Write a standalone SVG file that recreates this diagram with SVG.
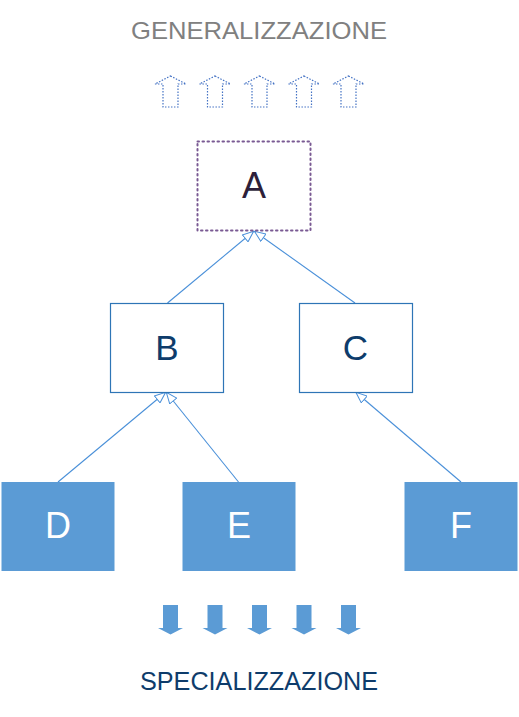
<svg xmlns="http://www.w3.org/2000/svg" width="519" height="717" viewBox="0 0 519 717">
<style>
.lbl{font-family:"Liberation Sans",Arial,sans-serif;text-anchor:middle}
.outline{fill:#ffffff;stroke:#2e75b6;stroke-width:1.2}
.filled{fill:#5b9bd5;stroke:#5b9bd5;stroke-width:1}
.conn{stroke:#4a90d9;stroke-width:1.1;fill:none}
.up{fill:none;stroke:#4472c4;stroke-width:1.2;stroke-dasharray:1.5 1.5}
.down{fill:#5b9bd5;stroke:none}
</style>
<defs>
<marker id="tri" viewBox="0 0 12 10" refX="12" refY="5" markerWidth="12" markerHeight="10" markerUnits="userSpaceOnUse" orient="auto">
<path d="M0.5,0.5 L11.5,5 L0.5,9.5 Z" fill="#ffffff" stroke="#4a90d9" stroke-width="1"/>
</marker>
<path id="uparrow" d="M0,-16 L15.5,-8 L7.5,-8 L7.5,15 L-7.5,15 L-7.5,-8 L-15.5,-8 Z"/>
<path id="downarrow" d="M-7.5,0 L7.5,0 L7.5,23 L12.5,23 L0,29.5 L-12.5,23 L-7.5,23 Z"/>
</defs>
<rect width="519" height="717" fill="#ffffff"/>
<text class="lbl" x="259" y="39" font-size="24.5" fill="#808080" textLength="256" lengthAdjust="spacingAndGlyphs">GENERALIZZAZIONE</text>
<g id="gen-arrows">
<use href="#uparrow" x="170.5" y="92" class="up"/>
<use href="#uparrow" x="215" y="92" class="up"/>
<use href="#uparrow" x="259.5" y="92" class="up"/>
<use href="#uparrow" x="304" y="92" class="up"/>
<use href="#uparrow" x="348.5" y="92" class="up"/>
</g>
<g id="connectors">
<line class="conn" x1="167.5" y1="303" x2="254" y2="231" marker-end="url(#tri)"/>
<line class="conn" x1="355" y1="303" x2="254" y2="231" marker-end="url(#tri)"/>
<line class="conn" x1="58" y1="482" x2="166" y2="392" marker-end="url(#tri)"/>
<line class="conn" x1="238.5" y1="482" x2="166" y2="392" marker-end="url(#tri)"/>
<line class="conn" x1="461" y1="482" x2="355.5" y2="392" marker-end="url(#tri)"/>
</g>
<g id="A">
<rect x="197.5" y="141.5" width="113" height="89" fill="#ffffff" stroke="#7a5a93" stroke-width="2" stroke-dasharray="1.5 3.5" stroke-linecap="round"/>
<text class="lbl" x="254" y="198" font-size="36" fill="#2d1f3a">A</text>
</g>
<g id="B">
<rect class="outline" x="110.5" y="303.5" width="113" height="89"/>
<text class="lbl" x="167" y="360" font-size="35" fill="#0e3c6b">B</text>
</g>
<g id="C">
<rect class="outline" x="299.5" y="303.5" width="113" height="89"/>
<text class="lbl" x="355.5" y="360" font-size="35" fill="#0e3c6b">C</text>
</g>
<g id="D">
<rect class="filled" x="2" y="482.5" width="112" height="88"/>
<text class="lbl" x="58" y="538" font-size="36" fill="#ffffff">D</text>
</g>
<g id="E">
<rect class="filled" x="183" y="482.5" width="112" height="88"/>
<text class="lbl" x="239" y="538" font-size="36" fill="#ffffff">E</text>
</g>
<g id="F">
<rect class="filled" x="405" y="482.5" width="112" height="88"/>
<text class="lbl" x="461" y="538" font-size="36" fill="#ffffff">F</text>
</g>
<g id="spec-arrows">
<use href="#downarrow" x="170.5" y="605" class="down"/>
<use href="#downarrow" x="215" y="605" class="down"/>
<use href="#downarrow" x="259.5" y="605" class="down"/>
<use href="#downarrow" x="304" y="605" class="down"/>
<use href="#downarrow" x="348.5" y="605" class="down"/>
</g>
<text class="lbl" x="259" y="690" font-size="25.5" fill="#0e3c6b" textLength="238" lengthAdjust="spacingAndGlyphs">SPECIALIZZAZIONE</text>
</svg>
